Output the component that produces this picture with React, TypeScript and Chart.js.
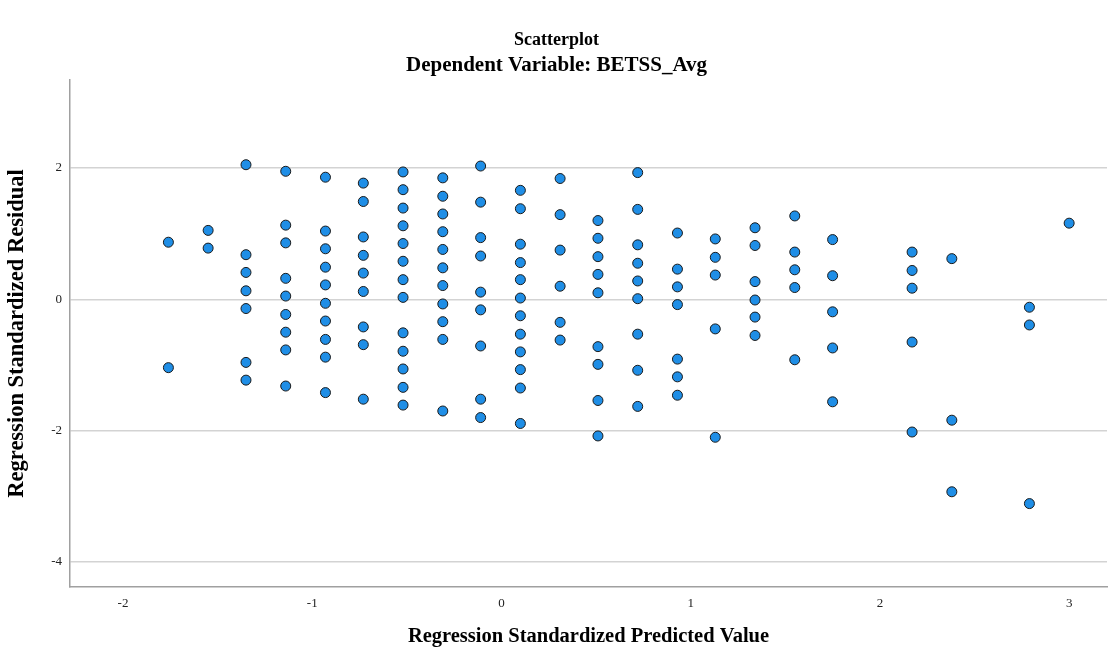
import React, { useEffect, useRef } from "react";
import { Chart, registerables } from "chart.js";

Chart.register(...registerables);

// Predicted value columns (Regression Standardized Predicted Value)
const predictedLevels = [
  -1.76, -1.55, -1.35, -1.14, -0.93, -0.73, -0.52, -0.31, -0.11, 0.1, 0.31,
  0.51, 0.72, 0.93, 1.13, 1.34, 1.55, 1.75, 2.17, 2.38, 2.79, 3.0,
];

// Residuals per predicted-value column (same order as predictedLevels)
const resA = [0.87, -1.04];
const resB = [1.05, 0.78];
const resC = [2.05, 0.68, 0.41, 0.13, -0.14, -0.96, -1.23];
const resD = [1.95, 1.13, 0.86, 0.32, 0.05, -0.23, -0.5, -0.77, -1.32];
const resE = [1.86, 1.04, 0.77, 0.49, 0.22, -0.06, -0.33, -0.61, -0.88, -1.42];
const resF = [1.77, 1.49, 0.95, 0.67, 0.4, 0.12, -0.42, -0.69, -1.52];
const resG = [1.94, 1.67, 1.39, 1.12, 0.85, 0.58, 0.3, 0.03, -0.51, -0.79, -1.06, -1.34, -1.61];
const resH = [1.85, 1.57, 1.3, 1.03, 0.76, 0.48, 0.21, -0.07, -0.34, -0.61, -1.7];
const resI = [2.03, 1.48, 0.94, 0.66, 0.11, -0.16, -0.71, -1.52, -1.8];
const resJ = [1.66, 1.38, 0.84, 0.56, 0.3, 0.02, -0.25, -0.53, -0.8, -1.07, -1.35, -1.89];
const resK = [1.84, 1.29, 0.75, 0.2, -0.35, -0.62];
const resL = [1.2, 0.93, 0.65, 0.38, 0.1, -0.72, -0.99, -1.54, -2.08];
const resM = [1.93, 1.37, 0.83, 0.55, 0.28, 0.01, -0.53, -1.08, -1.63];
const resN = [1.01, 0.46, 0.19, -0.08, -0.91, -1.18, -1.46];
const resO = [0.92, 0.64, 0.37, -0.45, -2.1];
const resP = [1.09, 0.82, 0.27, -0.01, -0.27, -0.55];
const resQ = [1.27, 0.72, 0.45, 0.18, -0.92];
const resR = [0.91, 0.36, -0.19, -0.74, -1.56];
const resS = [0.72, 0.44, 0.17, -0.65, -2.02];
const resT = [0.62, -1.84, -2.93];
const resU = [-0.12, -0.39, -3.11];
const resV = [1.16];

const residualColumns = [
  resA, resB, resC, resD, resE, resF, resG, resH, resI, resJ, resK,
  resL, resM, resN, resO, resP, resQ, resR, resS, resT, resU, resV,
];

const xTickValues = [-2, -1, 0, 1, 2, 3];
const yTickValues = [-4, -2, 0, 2];

const chartTitle = "Scatterplot";
const chartSubtitle = "Dependent Variable: BETSS_Avg";
const xAxisTitle = "Regression Standardized Predicted Value";
const yAxisTitle = "Regression Standardized Residual";

const SERIF = "'Liberation Serif', 'Times New Roman', serif";

export default function App() {
  const canvasRef = useRef<HTMLCanvasElement | null>(null);

  useEffect(() => {
    const canvas = canvasRef.current;
    if (!canvas) return;

    const points: { x: number; y: number }[] = [];
    predictedLevels.forEach((px, i) => {
      residualColumns[i].forEach((r) => points.push({ x: px, y: r }));
    });

    const titlePlugin = {
      id: "spssTitles",
      afterDraw(chart: any) {
        const ctx = chart.ctx;
        const cx = chart.width / 2;
        ctx.save();
        ctx.fillStyle = "#000";
        ctx.textAlign = "center";
        ctx.textBaseline = "middle";
        ctx.font = `bold 18px ${SERIF}`;
        ctx.fillText(chartTitle, cx, 40);
        ctx.font = `bold 21px ${SERIF}`;
        ctx.fillText(chartSubtitle, cx, 66);
        ctx.restore();
      },
    };

    const chart = new Chart(canvas, {
      type: "scatter",
      data: {
        datasets: [
          {
            data: points,
            backgroundColor: "#1f8ee6",
            borderColor: "#1a1a1a",
            borderWidth: 1,
            pointRadius: 5,
            pointHoverRadius: 5,
          },
        ],
      },
      options: {
        responsive: false,
        animation: false,
        layout: { padding: { top: 80, right: 3, left: 0, bottom: 0 } },
        plugins: {
          legend: { display: false },
          tooltip: { enabled: false },
          title: { display: false },
        },
        scales: {
          x: {
            type: "linear",
            min: -2.28,
            max: 3.2,
            afterBuildTicks: (s: any) => {
              s.ticks = xTickValues.map((v) => ({ value: v }));
            },
            afterFit: (s: any) => {
              s.height = 62;
            },
            grid: { display: false, drawTicks: false },
            border: { display: true, color: "#a0a0a0", width: 1.5 },
            ticks: {
              color: "#222",
              padding: 9,
              font: { family: SERIF, size: 13 },
            },
            title: {
              display: true,
              text: xAxisTitle,
              color: "#000",
              font: { family: SERIF, size: 20.5, weight: "bold" },
              padding: { top: 0, bottom: 0 },
            },
          },
          y: {
            type: "linear",
            min: -4.38,
            max: 3.34,
            afterBuildTicks: (s: any) => {
              s.ticks = yTickValues.map((v) => ({ value: v }));
            },
            afterFit: (s: any) => {
              s.width = 70;
            },
            grid: { color: "#d3d3d3", lineWidth: 1.5, drawTicks: false },
            border: { display: true, color: "#a0a0a0", width: 1.5 },
            ticks: {
              color: "#222",
              padding: 8,
              font: { family: SERIF, size: 13 },
            },
            title: {
              display: true,
              text: yAxisTitle,
              color: "#000",
              font: { family: SERIF, size: 22.5, weight: "bold" },
              padding: { top: 4, bottom: 0 },
            },
          },
        },
      },
      plugins: [titlePlugin],
    });

    return () => chart.destroy();
  }, []);

  return (
    <div style={{ position: "absolute", left: 0, top: 0, width: 1113, height: 649, background: "#fff" }}>
      <canvas ref={canvasRef} width={1113} height={649} style={{ display: "block" }} />
    </div>
  );
}
